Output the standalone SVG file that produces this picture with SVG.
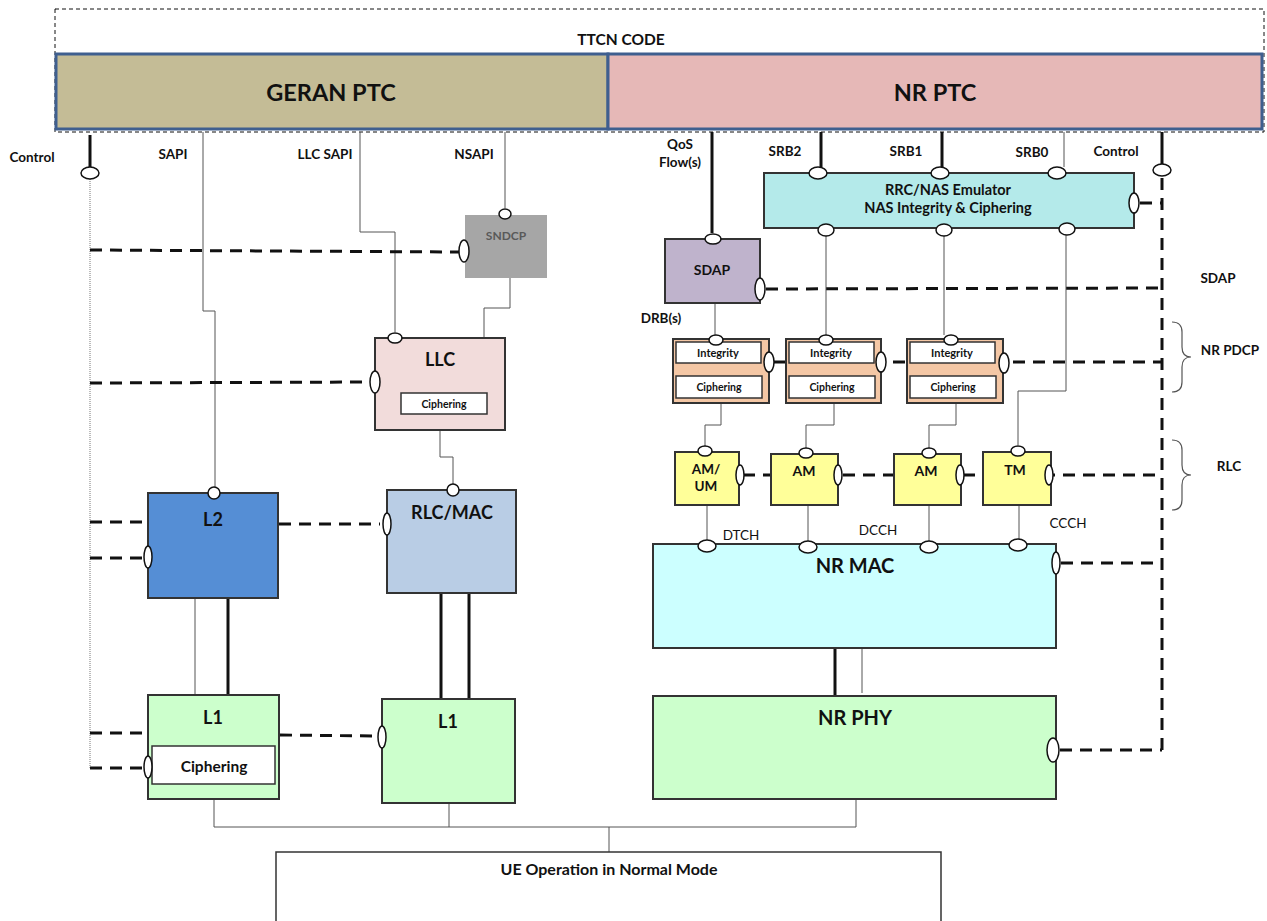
<svg xmlns="http://www.w3.org/2000/svg" width="1267" height="921" viewBox="0 0 1267 921">
<style>
text{font-family:Lato,"Liberation Sans",sans-serif;font-weight:bold;fill:#111;text-anchor:middle}
.lbl{font-size:13.5px}
.big{font-size:18px}
.box{stroke:#333;stroke-width:2}
.inner{fill:#fff;stroke:#333;stroke-width:1.5}
.port{fill:#fff;stroke:#111;stroke-width:1.5}
.thin{fill:none;stroke:#555;stroke-width:1}
.thick{fill:none;stroke:#111;stroke-width:3}
.dash{fill:none;stroke:#111;stroke-width:3;stroke-dasharray:12 8}
.brace{fill:none;stroke:#555;stroke-width:1.2}
</style>
<rect width="1267" height="921" fill="#fff"/>

<g id="ttcn">
<rect x="55" y="9" width="1209" height="123" fill="none" stroke="#111" stroke-width="1" stroke-dasharray="4 3"/>
<text x="621" y="45" font-size="15.5">TTCN CODE</text>
</g>
<g id="geran-ptc">
<rect x="56" y="54" width="552" height="75" fill="#c4bc96" stroke="#3f5f8f" stroke-width="3"/>
<text x="331" y="101" font-size="23.5">GERAN PTC</text>
</g>
<g id="nr-ptc">
<rect x="608" y="54" width="654" height="75" fill="#e6b8b7" stroke="#3f5f8f" stroke-width="3"/>
<text x="935" y="101" font-size="23.5">NR PTC</text>
</g>

<g id="connectors">
<line class="thick" x1="90" y1="135" x2="90" y2="167"/>
<line x1="90" y1="179" x2="90" y2="768" stroke="#777" stroke-width="1" stroke-dasharray="1 1"/>
<polyline class="thin" points="203,132 203,311 215,311 215,487"/>
<polyline class="thin" points="360,132 360,232 395,232 395,332"/>
<line class="thin" x1="505" y1="132" x2="505" y2="208"/>
<polyline class="thin" points="510,278 510,308 484,308 484,338"/>
<polyline class="thin" points="440,430 440,457 453,457 453,484"/>
<line class="dash" x1="90" y1="250" x2="459" y2="252"/>
<line class="dash" x1="90" y1="383" x2="369" y2="382"/>
<line class="dash" x1="90" y1="522" x2="146" y2="522"/>
<line class="dash" x1="90" y1="558" x2="142" y2="558"/>
<line class="dash" x1="279" y1="524" x2="380" y2="524"/>
<line class="dash" x1="90" y1="733" x2="146" y2="733"/>
<line class="dash" x1="90" y1="768" x2="142" y2="768"/>
<line class="dash" x1="280" y1="735" x2="376" y2="736"/>
<line x1="195" y1="598" x2="195" y2="695" stroke="#555" stroke-width="1"/>
<line class="thick" x1="228" y1="598" x2="228" y2="695"/>
<line class="thick" x1="441" y1="593" x2="441" y2="699"/>
<line class="thick" x1="469" y1="593" x2="469" y2="699"/>
<polyline class="thin" points="214,799 214,827 856,827 856,799"/>
<line class="thin" x1="449" y1="803" x2="449" y2="827"/>
<line class="thin" x1="609" y1="827" x2="609" y2="852"/>

<line class="thick" x1="712" y1="132" x2="712" y2="233"/>
<line class="thick" x1="821" y1="132" x2="821" y2="167"/>
<line class="thick" x1="942" y1="132" x2="942" y2="167"/>
<line x1="1064" y1="132" x2="1064" y2="167" stroke="#555" stroke-width="1"/>
<line class="thick" x1="1162" y1="132" x2="1162" y2="164"/>
<line class="dash" x1="1162" y1="178" x2="1162" y2="751" stroke-dasharray="12 9"/>
<line class="dash" x1="1140" y1="203" x2="1162" y2="203"/>
<line class="dash" x1="766" y1="289" x2="1162" y2="288"/>
<line class="dash" x1="773" y1="362" x2="1162" y2="362"/>
<line class="dash" x1="743" y1="475" x2="1162" y2="475"/>
<line class="dash" x1="1061" y1="563" x2="1162" y2="563"/>
<line class="dash" x1="1060" y1="750" x2="1162" y2="750"/>
<line class="thin" x1="826" y1="236" x2="826" y2="335"/>
<line class="thin" x1="944" y1="236" x2="944" y2="335"/>
<polyline class="thin" points="1066,235 1066,391 1018,391 1018,445"/>
<line class="thin" x1="715" y1="303" x2="715" y2="335"/>
<polyline class="thin" points="721,403 721,425 705,425 705,446"/>
<polyline class="thin" points="834,403 834,425 806,425 806,448"/>
<polyline class="thin" points="956,403 956,425 929,425 929,448"/>
<line class="thin" x1="707" y1="505" x2="707" y2="540"/>
<line class="thin" x1="808" y1="505" x2="808" y2="542"/>
<line class="thin" x1="929" y1="505" x2="929" y2="542"/>
<line class="thin" x1="1019" y1="505" x2="1019" y2="540"/>
<line class="thick" x1="835" y1="648" x2="835" y2="696"/>
<line x1="862" y1="648" x2="862" y2="693" stroke="#555" stroke-width="1"/>
</g>

<g id="labels">
<text class="lbl" x="32" y="162">Control</text>
<text class="lbl" x="173" y="159">SAPI</text>
<text class="lbl" x="325" y="159">LLC SAPI</text>
<text class="lbl" x="474" y="159">NSAPI</text>
<text class="lbl" x="680" y="149">QoS</text>
<text class="lbl" x="680" y="167">Flow(s)</text>
<text class="lbl" x="785" y="156">SRB2</text>
<text class="lbl" x="906" y="156">SRB1</text>
<text class="lbl" x="1032" y="157">SRB0</text>
<text class="lbl" x="1116" y="156">Control</text>
<text class="lbl" x="1218" y="283">SDAP</text>
<text class="lbl" x="661" y="323">DRB(s)</text>
<text class="lbl" x="1230" y="355">NR PDCP</text>
<text class="lbl" x="1229" y="471">RLC</text>
<text class="lbl" x="741" y="540" style="font-weight:normal">DTCH</text>
<text class="lbl" x="878" y="535" style="font-weight:normal">DCCH</text>
<text class="lbl" x="1068" y="528" style="font-weight:normal">CCCH</text>
<path class="brace" d="M1172,322 Q1182,322 1182,332 L1182,347 Q1182,357 1191,357 Q1182,357 1182,367 L1182,382 Q1182,392 1172,392"/>
<path class="brace" d="M1172,440 Q1182,440 1182,450 L1182,465 Q1182,475 1191,475 Q1182,475 1182,485 L1182,500 Q1182,510 1172,510"/>
</g>

<g id="left-control-port"><ellipse class="port" cx="90" cy="173" rx="9" ry="6"/></g>

<g id="sndcp">
<rect x="465" y="215" width="82" height="63" fill="#a6a6a6"/>
<text x="506" y="240" font-size="12" style="fill:#595959">SNDCP</text>
<ellipse class="port" cx="505" cy="214" rx="6" ry="5"/>
<ellipse class="port" cx="464" cy="251" rx="5" ry="11"/>
</g>

<g id="llc">
<rect class="box" x="375" y="338" width="130" height="92" fill="#f2dcdb"/>
<text class="big" x="440" y="366">LLC</text>
<rect class="inner" x="401" y="393" width="86" height="21"/>
<text x="444" y="408" font-size="10.5">Ciphering</text>
<ellipse class="port" cx="395" cy="338" rx="7" ry="5"/>
<ellipse class="port" cx="375" cy="382" rx="5" ry="11"/>
</g>

<g id="l2">
<rect class="box" x="148" y="493" width="130" height="105" fill="#558ed5"/>
<text class="big" x="213" y="526">L2</text>
<ellipse class="port" cx="214" cy="493" rx="6" ry="6"/>
<ellipse class="port" cx="148" cy="557" rx="4" ry="11"/>
</g>

<g id="rlc-mac">
<rect class="box" x="387" y="490" width="129" height="103" fill="#b9cde5"/>
<text class="big" x="452" y="519">RLC/MAC</text>
<ellipse class="port" cx="453" cy="490" rx="6" ry="6"/>
<ellipse class="port" cx="387" cy="524" rx="4" ry="11"/>
</g>

<g id="l1-geran">
<rect class="box" x="148" y="695" width="131" height="104" fill="#ccffcc"/>
<text class="big" x="213" y="724">L1</text>
<rect class="inner" x="152" y="746" width="123" height="38"/>
<text x="214" y="772" font-size="15.5">Ciphering</text>
<ellipse class="port" cx="148" cy="767" rx="4" ry="11"/>
</g>

<g id="l1-rlcmac">
<rect class="box" x="382" y="699" width="133" height="104" fill="#ccffcc"/>
<text class="big" x="448" y="728">L1</text>
<ellipse class="port" cx="382" cy="737" rx="4" ry="11"/>
</g>

<g id="ue">
<path d="M276,921 L276,852 L941,852 L941,921" fill="#fff" stroke="#333" stroke-width="1.5"/>
<text x="609" y="875" font-size="16">UE Operation in Normal Mode</text>
</g>

<g id="rrc-nas">
<rect class="box" x="764" y="173" width="370" height="55" fill="#b4eaea"/>
<text x="948" y="195" font-size="14.5">RRC/NAS Emulator</text>
<text x="948" y="213" font-size="14.5">NAS Integrity &amp; Ciphering</text>
<ellipse class="port" cx="818" cy="173" rx="9" ry="6"/>
<ellipse class="port" cx="940" cy="173" rx="9" ry="6"/>
<ellipse class="port" cx="1057" cy="173" rx="9" ry="6"/>
<ellipse class="port" cx="826" cy="230" rx="8" ry="6"/>
<ellipse class="port" cx="944" cy="230" rx="8" ry="6"/>
<ellipse class="port" cx="1067" cy="229" rx="8" ry="6"/>
<ellipse class="port" cx="1134" cy="203" rx="5" ry="10"/>
</g>

<g id="control-port-right"><ellipse class="port" cx="1162" cy="170" rx="9" ry="6"/></g>

<g id="sdap">
<rect class="box" x="665" y="239" width="95" height="64" fill="#bfb3cc"/>
<text x="712" y="275" font-size="14">SDAP</text>
<ellipse class="port" cx="713" cy="239" rx="8" ry="5"/>
<ellipse class="port" cx="760" cy="289" rx="5" ry="11"/>
</g>

<g id="pdcp1">
<rect class="box" x="673" y="339" width="96" height="64" fill="#f4c7a5"/>
<rect class="inner" x="676" y="342" width="85" height="21"/>
<text x="718" y="357" font-size="11">Integrity</text>
<rect class="inner" x="676" y="376" width="86" height="22"/>
<text x="719" y="391" font-size="10.5">Ciphering</text>
<ellipse class="port" cx="716" cy="340" rx="7" ry="5"/>
<ellipse class="port" cx="769" cy="362" rx="5" ry="10"/>
</g>
<g id="pdcp2">
<rect class="box" x="786" y="339" width="95" height="64" fill="#f4c7a5"/>
<rect class="inner" x="789" y="342" width="85" height="21"/>
<text x="831" y="357" font-size="11">Integrity</text>
<rect class="inner" x="789" y="376" width="86" height="22"/>
<text x="832" y="391" font-size="10.5">Ciphering</text>
<ellipse class="port" cx="826" cy="340" rx="7" ry="5"/>
<ellipse class="port" cx="881" cy="362" rx="5" ry="10"/>
</g>
<g id="pdcp3">
<rect class="box" x="907" y="339" width="96" height="64" fill="#f4c7a5"/>
<rect class="inner" x="910" y="342" width="85" height="21"/>
<text x="952" y="357" font-size="11">Integrity</text>
<rect class="inner" x="910" y="376" width="86" height="22"/>
<text x="953" y="391" font-size="10.5">Ciphering</text>
<ellipse class="port" cx="951" cy="340" rx="7" ry="5"/>
<ellipse class="port" cx="1004" cy="363" rx="5" ry="10"/>
</g>

<g id="rlc-amum">
<rect class="box" x="675" y="452" width="64" height="53" fill="#ffff99"/>
<text x="706" y="474" font-size="13.5">AM/</text>
<text x="706" y="491" font-size="13.5">UM</text>
<ellipse class="port" cx="705" cy="451" rx="7" ry="5"/>
<ellipse class="port" cx="740" cy="475" rx="4" ry="10"/>
</g>
<g id="rlc-am1">
<rect class="box" x="771" y="454" width="67" height="51" fill="#ffff99"/>
<text x="804" y="476" font-size="14">AM</text>
<ellipse class="port" cx="806" cy="453" rx="7" ry="5"/>
<ellipse class="port" cx="838" cy="475" rx="4" ry="10"/>
</g>
<g id="rlc-am2">
<rect class="box" x="894" y="454" width="67" height="51" fill="#ffff99"/>
<text x="926" y="476" font-size="14">AM</text>
<ellipse class="port" cx="929" cy="453" rx="7" ry="5"/>
<ellipse class="port" cx="960" cy="475" rx="4" ry="10"/>
</g>
<g id="rlc-tm">
<rect class="box" x="983" y="452" width="68" height="53" fill="#ffff99"/>
<text x="1015" y="475" font-size="14">TM</text>
<ellipse class="port" cx="1018" cy="451" rx="7" ry="5"/>
<ellipse class="port" cx="1049" cy="475" rx="4" ry="10"/>
</g>

<g id="nr-mac">
<rect class="box" x="653" y="544" width="403" height="104" fill="#ccffff"/>
<text x="855" y="573" font-size="20">NR MAC</text>
<ellipse class="port" cx="707" cy="546" rx="9" ry="6"/>
<ellipse class="port" cx="808" cy="547" rx="9" ry="6"/>
<ellipse class="port" cx="929" cy="547" rx="9" ry="6"/>
<ellipse class="port" cx="1018" cy="545" rx="9" ry="6"/>
<ellipse class="port" cx="1056" cy="563" rx="4" ry="11"/>
</g>

<g id="nr-phy">
<rect class="box" x="653" y="696" width="403" height="103" fill="#ccffcc"/>
<text x="855" y="725" font-size="20">NR PHY</text>
<ellipse class="port" cx="1053" cy="750" rx="6" ry="12"/>
</g>
</svg>
